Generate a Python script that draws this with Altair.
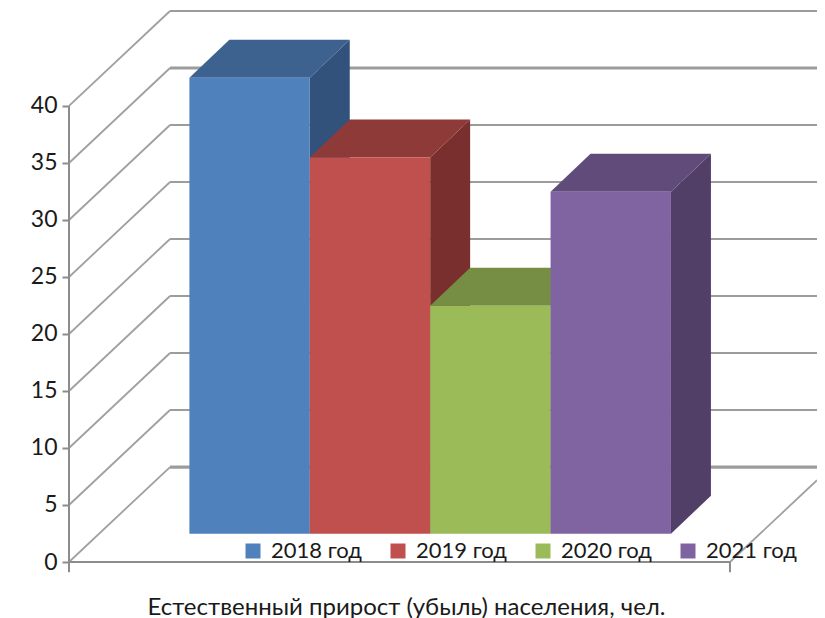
import altair as alt
import pandas as pd

years = ["2018 год", "2019 год", "2020 год", "2021 год"]
values = [40, 33, 20, 30]
front_colors = ["#4F81BD", "#C0504D", "#9BBB59", "#8064A2"]
top_colors = ["#3D6290", "#8E3A38", "#758E43", "#614B7A"]
side_colors = ["#32527C", "#782F2E", "#637939", "#513F68"]
levels = [0, 5, 10, 15, 20, 25, 30, 35, 40]
heavy_levels = [0, 35]

X_MAX = 6.213
Y_MAX = 48.33
WALL_X = 0.839
WALL_Y = 8.33
DEPTH_X = 0.332
DEPTH_Y = 3.33
BASE = 2.48
FLOOR_END = 5.49

fronts, tops, sides = [], [], []
for i, (yr, v) in enumerate(zip(years, values)):
    x0, x1, top = i + 1, i + 2, BASE + v
    fronts.append(dict(year=yr, x=x0, x2=x1, y=BASE, y2=top))
    c = top_colors[i]
    for px, a, b in [(x0, top, top), (x0 + DEPTH_X, top + DEPTH_Y, top),
                     (x1, top + DEPTH_Y, top), (x1 + DEPTH_X, top + DEPTH_Y, top + DEPTH_Y)]:
        tops.append(dict(year=yr, x=px, y=a, y2=b, c=c))
    c = side_colors[i]
    sides.append(dict(year=yr, x=x1, y=BASE, y2=top, c=c))
    sides.append(dict(year=yr, x=x1 + DEPTH_X, y=BASE + DEPTH_Y, y2=top + DEPTH_Y, c=c))

diag = []
for lv in levels:
    diag.append(dict(k=f"l{lv}", x=0, y=lv))
    diag.append(dict(k=f"l{lv}", x=WALL_X, y=lv + WALL_Y))
diag.append(dict(k="r", x=FLOOR_END, y=0))
diag.append(dict(k="r", x=X_MAX, y=(X_MAX - FLOOR_END) / WALL_X * WALL_Y))
back = [dict(x=WALL_X, x2=X_MAX, y=lv + WALL_Y, w=3.2 if lv in heavy_levels else 2.0) for lv in levels]
axis_lines = [dict(x=0, x2=0, y=0, y2=40), dict(x=0, x2=FLOOR_END, y=0, y2=0),
              dict(x=0, x2=0, y=0, y2=-0.9), dict(x=FLOOR_END, x2=FLOOR_END, y=0, y2=-0.9)]

FONT = "Lato"
xs = alt.Scale(domain=[0, X_MAX], nice=False, zero=False)
ys = alt.Scale(domain=[0, Y_MAX], nice=False, zero=False)
X0 = alt.X("x:Q", scale=xs, axis=alt.Axis(
    title="Естественный прирост (убыль) населения, чел.", labels=False, ticks=False,
    domain=False, grid=False, titleFont=FONT, titleFontSize=24, titleFontWeight="normal",
    titleColor="#1a1a1a", titleX=337, titleY=45, titleAlign="center", titleBaseline="middle"))
Y0 = alt.Y("y:Q", scale=ys, axis=alt.Axis(
    title=None, values=levels, domain=False, grid=False, tickColor="#8C8C8C", tickSize=7,
    tickWidth=2, labelFont=FONT, labelFontSize=23, labelColor="#1a1a1a", labelPadding=5))

base_axes = alt.Chart(pd.DataFrame(back)).mark_rule(color="#9C9C9C").encode(
    x=X0, x2="x2:Q", y=Y0, strokeWidth=alt.StrokeWidth("w:Q", scale=None))
diag_lines = alt.Chart(pd.DataFrame(diag)).mark_line(color="#A0A0A0", strokeWidth=1.8).encode(
    x=X0, y=Y0, detail="k:N")
axes_rules = alt.Chart(pd.DataFrame(axis_lines)).mark_rule(color="#8C8C8C", strokeWidth=2).encode(
    x=X0, x2="x2:Q", y=Y0, y2="y2:Q")
side_faces = alt.Chart(pd.DataFrame(sides)).mark_area(opacity=1).encode(
    x=X0, y=Y0, y2="y2:Q", color=alt.Color("c:N", scale=None), detail="year:N")
top_faces = alt.Chart(pd.DataFrame(tops)).mark_area(opacity=1).encode(
    x=X0, y=Y0, y2="y2:Q", color=alt.Color("c:N", scale=None), detail="year:N")
front_faces = alt.Chart(pd.DataFrame(fronts)).mark_rect().encode(
    x=X0, x2="x2:Q", y=Y0, y2="y2:Q",
    fill=alt.Fill("year:N", scale=alt.Scale(domain=years, range=front_colors), legend=alt.Legend(
        title=None, orient="none", legendX=173, legendY=529, columns=4, columnPadding=25,
        symbolType="square", symbolSize=225, symbolStrokeWidth=0, labelOffset=7,
        labelFont=FONT, labelFontSize=22, labelColor="#1a1a1a", padding=0)),
)

chart = alt.layer(base_axes, diag_lines, axes_rules, side_faces, top_faces, front_faces).properties(
    width=748, height=551,
    autosize=alt.AutoSizeParams(type="none"),
    padding={"left": 61, "top": 3, "right": 0, "bottom": 56},
    background="white",
).configure_view(stroke=None)

chart.save("out.html", embed_options={"renderer": "svg", "actions": False})
